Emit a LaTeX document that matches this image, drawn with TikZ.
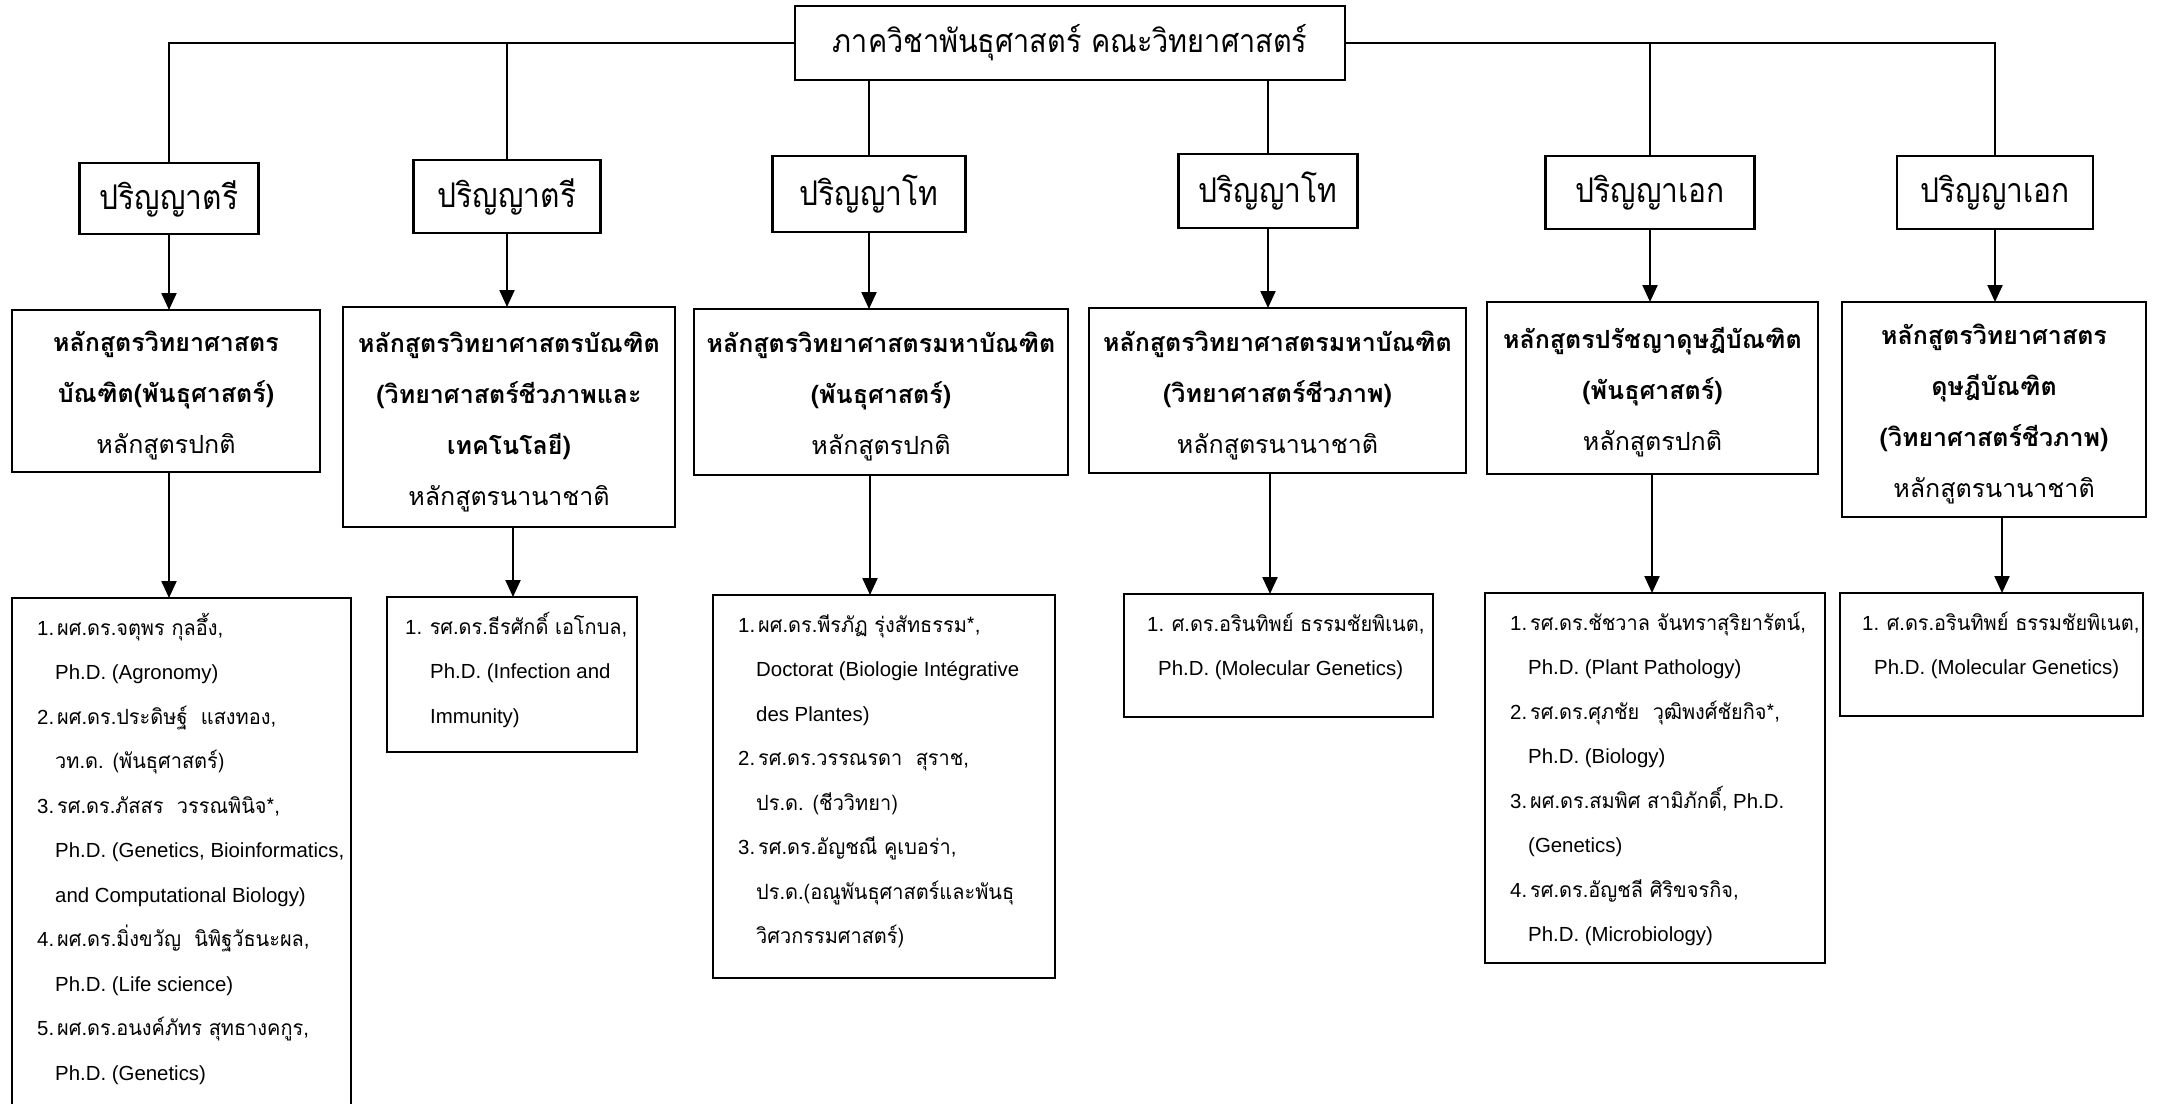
\documentclass[tikz,border=0pt]{standalone}
\usepackage{fontspec}
\setmainfont{Liberation Sans}
\newfontfamily\thai[Script=Thai]{Loma}
\newfontfamily\thaiT[Script=Thai,FakeStretch=0.9]{Loma}
\newfontfamily\thaiD[Script=Thai,FakeStretch=0.88]{Loma}
\newfontfamily\thaiS[Script=Thai,FakeStretch=0.95]{Loma}
\usetikzlibrary{arrows.meta}
\newcommand\titlefont{\thaiT\fontsize{32}{36}\selectfont}
\newcommand\degfont{\thaiD\fontsize{34}{38}\selectfont}
\newcommand\progfont{\thai\fontsize{25}{51}\selectfont}
\newcommand\stafffont{\fontsize{20.4}{44.5}\selectfont}
\newcommand\T[1]{{\thaiS\fontsize{21}{44.5}\selectfont #1}}
\newcommand\ps{\rule[-14pt]{0pt}{51pt}}
\newcommand\fs{\rule{0pt}{30pt}}
\newcommand\ind{\hspace*{18pt}}
\newcommand\B[1]{\ps\textbf{#1}}
\newcommand\N[1]{\ps #1}
\tikzset{
  box/.style={draw, line width=2.2pt, fill=white, inner sep=0pt, outer sep=0pt},
  ln/.style={line width=2.2pt},
  arr/.style={line width=2.2pt, -{Triangle[length=17pt,width=15pt]}},
  deg/.style={box, font=\degfont},
  prog/.style={box, align=center, font=\progfont},
  staffbox/.style={box},
  stafftext/.style={anchor=north west, inner sep=0pt, align=left, font=\stafffont},
}
\begin{document}
\begin{tikzpicture}[x=1pt,y=-1pt]
\fill[white] (0,0) rectangle (2162,1103);
\useasboundingbox (0,0) rectangle (2162,1103);
% title
\node[box, font=\titlefont, minimum width=550pt, minimum height=74pt] (title) at (1070,43) {ภาควิชาพันธุศาสตร์ คณะวิทยาศาสตร์};
% degree boxes
\node[deg, minimum width=179pt, minimum height=71pt] (d1) at (169,198.5) {ปริญญาตรี};
\node[deg, minimum width=187pt, minimum height=73pt] (d2) at (507,196.5) {ปริญญาตรี};
\node[deg, minimum width=193pt, minimum height=76pt] (d3) at (869,194) {ปริญญาโท};
\node[deg, minimum width=179pt, minimum height=74pt] (d4) at (1268,191) {ปริญญาโท};
\node[deg, minimum width=209pt, minimum height=73pt] (d5) at (1650,192.5) {ปริญญาเอก};
\node[deg, minimum width=196pt, minimum height=73pt] (d6) at (1995,192.5) {ปริญญาเอก};
% programme boxes
\node[prog, minimum width=308pt, minimum height=162pt] (p1) at (166,391)
  {\B{หลักสูตรวิทยาศาสตร}\\\B{บัณฑิต(พันธุศาสตร์)}\\\N{หลักสูตรปกติ}};
\node[prog, minimum width=332pt, minimum height=220pt] (p2) at (509,417)
  {\B{หลักสูตรวิทยาศาสตรบัณฑิต}\\\B{(วิทยาศาสตร์ชีวภาพและ}\\\B{เทคโนโลยี)}\\\N{หลักสูตรนานาชาติ}};
\node[prog, minimum width=374pt, minimum height=166pt] (p3) at (881,392)
  {\B{หลักสูตรวิทยาศาสตรมหาบัณฑิต}\\\B{(พันธุศาสตร์)}\\\N{หลักสูตรปกติ}};
\node[prog, minimum width=377pt, minimum height=165pt] (p4) at (1277.5,390.5)
  {\B{หลักสูตรวิทยาศาสตรมหาบัณฑิต}\\\B{(วิทยาศาสตร์ชีวภาพ)}\\\N{หลักสูตรนานาชาติ}};
\node[prog, minimum width=331pt, minimum height=172pt] (p5) at (1652.5,388)
  {\B{หลักสูตรปรัชญาดุษฎีบัณฑิต}\\\B{(พันธุศาสตร์)}\\\N{หลักสูตรปกติ}};
\node[prog, minimum width=304pt, minimum height=215pt] (p6) at (1994,409.5)
  {\B{หลักสูตรวิทยาศาสตร}\\\B{ดุษฎีบัณฑิต}\\\B{(วิทยาศาสตร์ชีวภาพ)}\\\N{หลักสูตรนานาชาติ}};
% staff boxes
\node[staffbox, minimum width=339pt, minimum height=522pt] (s1) at (181.5,859) {};
\node[staffbox, minimum width=250pt, minimum height=155pt] (s2) at (512,674.5) {};
\node[staffbox, minimum width=342pt, minimum height=383pt] (s3) at (884,786.5) {};
\node[staffbox, minimum width=309pt, minimum height=123pt] (s4) at (1278.5,655.5) {};
\node[staffbox, minimum width=340pt, minimum height=370pt] (s5) at (1655,778) {};
\node[staffbox, minimum width=303pt, minimum height=123pt] (s6) at (1991.5,654.5) {};
% staff texts
\node[stafftext] (s1t) at ([shift={(25,7)}]s1.north west)
  {\fs 1.\kern3pt\T{ผศ.ดร.จตุพร กุลอึ้ง},\\
   \ind Ph.D. (Agronomy)\\
   2.\kern3pt\T{ผศ.ดร.ประดิษฐ์\ \ แสงทอง},\\
   \ind\T{วท.ด. (พันธุศาสตร์)}\\
   3.\kern3pt\T{รศ.ดร.ภัสสร\ \ วรรณพินิจ*},\\
   \ind Ph.D. (Genetics, Bioinformatics,\\
   \ind and Computational Biology)\\
   4.\kern3pt\T{ผศ.ดร.มิ่งขวัญ\ \ นิพิฐวัธนะผล},\\
   \ind Ph.D. (Life science)\\
   5.\kern3pt\T{ผศ.ดร.อนงค์ภัทร สุทธางคกูร},\\
   \ind Ph.D. (Genetics)};
\node[stafftext] (s2t) at ([shift={(18,7)}]s2.north west)
  {\fs 1. \T{รศ.ดร.ธีรศักดิ์ เอโกบล},\\
   \hspace*{25pt}Ph.D. (Infection and\\
   \hspace*{25pt}Immunity)};
\node[stafftext] (s3t) at ([shift={(25,7)}]s3.north west)
  {\fs 1.\kern3pt\T{ผศ.ดร.พีรภัฏ รุ่งสัทธรรม*},\\
   \ind Doctorat (Biologie Intégrative\\
   \ind des Plantes)\\
   2.\kern3pt\T{รศ.ดร.วรรณรดา\ \ สุราช},\\
   \ind\T{ปร.ด. (ชีววิทยา)}\\
   3.\kern3pt\T{รศ.ดร.อัญชณี คูเบอร่า},\\
   \ind\T{ปร.ด.(อณูพันธุศาสตร์และพันธุ}\\
   \ind\T{วิศวกรรมศาสตร์)}};
\node[stafftext] (s4t) at ([shift={(23,7)}]s4.north west)
  {\fs 1. \T{ศ.ดร.อรินทิพย์ ธรรมชัยพิเนต},\\
   \hspace*{11pt}Ph.D. (Molecular Genetics)};
\node[stafftext] (s5t) at ([shift={(25,7)}]s5.north west)
  {\fs 1.\kern3pt\T{รศ.ดร.ชัชวาล จันทราสุริยารัตน์},\\
   \ind Ph.D. (Plant Pathology)\\
   2.\kern3pt\T{รศ.ดร.ศุภชัย\ \ วุฒิพงศ์ชัยกิจ*},\\
   \ind Ph.D. (Biology)\\
   3.\kern3pt\T{ผศ.ดร.สมพิศ สามิภักดิ์}, Ph.D.\\
   \ind (Genetics)\\
   4.\kern3pt\T{รศ.ดร.อัญชลี ศิริขจรกิจ},\\
   \ind Ph.D. (Microbiology)};
\node[stafftext] (s6t) at ([shift={(22,7)}]s6.north west)
  {\fs 1. \T{ศ.ดร.อรินทิพย์ ธรรมชัยพิเนต},\\
   \hspace*{12pt}Ph.D. (Molecular Genetics)};
% connectors from title
\draw[ln] (title.west) -| (d1.north);
\draw[ln] (title.east) -| (d6.north);
\draw[ln] (d2.north) -- (d2.north |- title.west);
\draw[ln] (d5.north) -- (d5.north |- title.east);
\draw[ln] (d3.north) -- (d3.north |- title.south);
\draw[ln] (d4.north) -- (d4.north |- title.south);
% degree -> programme
\foreach \i in {1,...,6} \draw[arr] (d\i.south) -- (d\i.south |- p\i.north);
% programme -> staff
\coordinate (k1) at (169,0);
\coordinate (k2) at (513,0);
\coordinate (k3) at (870,0);
\coordinate (k4) at (1270,0);
\coordinate (k5) at (1652,0);
\coordinate (k6) at (2002,0);
\foreach \i in {1,...,6} \draw[arr] (k\i |- p\i.south) -- (k\i |- s\i.north);
\end{tikzpicture}
\end{document}
